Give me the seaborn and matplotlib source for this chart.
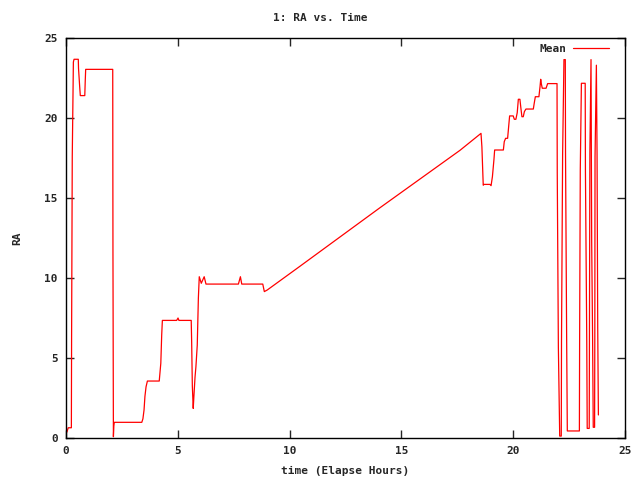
import matplotlib
matplotlib.use('Agg')
import matplotlib.pyplot as plt
import seaborn as sns
import pandas as pd

# elapsed time (hours) and mean RA
time_hours = [
    0.00, 0.04, 0.10, 0.24, 0.25, 0.28, 0.33, 0.36, 0.55, 0.56, 0.61, 0.64,
    0.84, 0.86, 0.88, 2.09, 2.10, 2.12, 2.14, 2.16, 3.39, 3.44, 3.49, 3.53,
    3.58, 3.64, 4.17, 4.24, 4.28, 4.31, 4.95, 5.01, 5.05, 5.60, 5.62, 5.65,
    5.69, 5.72, 5.77, 5.81, 5.87, 5.92, 5.96, 6.05, 6.18, 6.26, 7.71, 7.80,
    7.86, 8.80, 8.87, 9.00, 10.43, 14.00, 17.62, 18.56,
    18.60, 18.66, 18.69, 18.96, 19.01, 19.07, 19.14, 19.17, 19.56, 19.60,
    19.66, 19.75, 19.81, 19.84, 20.00, 20.05, 20.12, 20.18, 20.23, 20.30,
    20.35, 20.39, 20.45, 20.50, 20.57, 20.90, 20.94, 20.99, 21.15, 21.20,
    21.23, 21.26, 21.30, 21.47, 21.54, 21.96,
    21.97, 22.02, 22.08, 22.15, 22.16, 22.21, 22.27, 22.33, 22.34, 22.39,
    22.42, 22.96, 22.97, 23.00, 23.05, 23.22, 23.23, 23.29, 23.31, 23.40,
    23.41, 23.43, 23.48, 23.51, 23.55, 23.58, 23.64, 23.65, 23.66, 23.72,
    23.75, 23.78, 23.81,
]
ra_mean = [
    0.56, 0.37, 0.64, 0.64, 6.25, 17.6, 23.5, 23.67, 23.67, 23.1, 22.0, 21.4,
    21.4, 22.3, 23.04, 23.04, 11.6, 0.08, 0.75, 0.98, 0.98, 1.2, 1.75, 2.6,
    3.2, 3.56, 3.56, 4.67, 6.44, 7.35, 7.35, 7.5, 7.35, 7.35, 6.0, 3.25,
    1.85, 2.6, 3.8, 4.45, 5.8, 8.75, 10.08, 9.67, 10.08, 9.62, 9.62, 10.08,
    9.62, 9.62, 9.15, 9.25, 10.7, 14.35, 17.98, 19.04,
    18.2, 15.8, 15.85, 15.85, 15.77, 16.33, 17.42, 18.0, 18.0, 18.52,
    18.73, 18.73, 19.67, 20.13, 20.13, 19.92, 19.92, 20.33, 21.17, 21.17,
    20.54, 20.08, 20.08, 20.4, 20.56, 20.56, 20.92, 21.33, 21.33, 21.96,
    22.42, 22.13, 21.86, 21.86, 22.15, 22.15,
    16.6, 5.67, 0.12, 0.12, 6.0, 17.75, 23.65, 23.65, 17.8, 6.3,
    0.44, 0.44, 5.88, 16.75, 22.17, 22.17, 16.75, 6.0, 0.6, 0.6,
    6.33, 17.9, 23.65, 12.27, 6.33, 0.67, 0.67, 6.33, 17.6, 23.3,
    17.8, 6.9, 1.44,
]

df = pd.DataFrame({'time': time_hours, 'RA': ra_mean})

sns.set_style("ticks")
plt.rcParams['font.family'] = ['DejaVu Sans Mono']

fig = plt.figure(figsize=(6.4, 4.8), dpi=100)
ax = fig.add_axes([66 / 640, 42 / 480, 559 / 640, 400 / 480])

sns.lineplot(data=df, x='time', y='RA', sort=False, estimator=None,
             color='#ff0000', linewidth=0.9, label='Mean', ax=ax)

ax.set_xlim(0, 25)
ax.set_ylim(0, 25)
ax.set_xticks([0, 5, 10, 15, 20, 25])
ax.set_yticks([0, 5, 10, 15, 20, 25])
ax.tick_params(direction='in', top=True, right=True, length=6, width=1,
               labelsize=8, pad=6)
for lbl in ax.get_xticklabels() + ax.get_yticklabels():
    lbl.set_fontweight('bold')
for spine in ax.spines.values():
    spine.set_visible(True)
    spine.set_color('black')
    spine.set_linewidth(1)

ax.set_xlabel('time (Elapse Hours)', fontsize=8, fontweight='bold', labelpad=7)
ax.set_ylabel('RA', fontsize=8, fontweight='bold', labelpad=16)
fig.text(0.5, 1 - 18 / 480, '1: RA vs. Time', ha='center', va='center',
         fontsize=8, fontweight='bold')

leg = ax.legend(loc='center right', bbox_to_anchor=(0.971, 0.9725),
                frameon=False, handlelength=3.2, borderaxespad=0, borderpad=0,
                prop={'family': 'DejaVu Sans Mono', 'size': 8, 'weight': 'bold'},
                markerfirst=False, handletextpad=0.6)

fig.savefig('out.png', dpi=100)
